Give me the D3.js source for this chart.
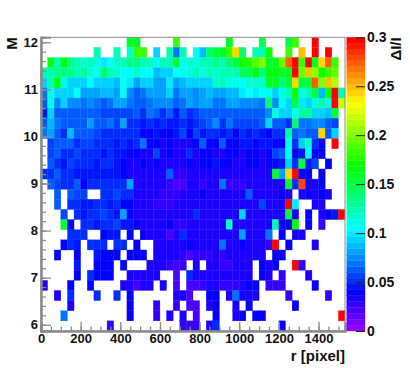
<!DOCTYPE html>
<html>
<head>
<meta charset="utf-8">
<script src="https://cdn.jsdelivr.net/npm/d3@7"></script>
<style>
  body { margin: 0; background: #fff; }
  text { font-family: "Liberation Sans", sans-serif; font-weight: bold; font-size: 15px; fill: #111; }
</style>
</head>
<body>
<svg id="chart" width="410" height="368"></svg>
<script>
const _ = null;

// ticks and bins
const rTicks = [0, 200, 400, 600, 800, 1000, 1200, 1400];
const rMinorTicks = d3.range(0, 1501, 50);
const mTicks = [6, 7, 8, 9, 10, 11, 12];
const mMinorTicks = d3.range(6, 12.01, 0.2);
const zTicks = [0, 0.05, 0.1, 0.15, 0.2, 0.25, 0.3];
const zLabels = ['0', '0.05', '0.1', '0.15', '0.2', '0.25', '0.3'];
const rRange = [0, 1533.33];
const mRange = [5.867, 12.106];

// delta I / I, rows from the top (high M) down, 46 r bins each
const cells = [
  [_,_,_,_,_,_,_,_,_,_, _,_,_,.16,.16,_,_,_,_,_, .18,_,_,_,_,_,_,_,.16,_, _,_,_,.145,_,_,_,.15,.18,_, _,.3,_,_,_,_],
  [_,_,_,_,_,_,_,_,.12,_, _,.125,_,.115,.18,.18,_,.09,_,.125, .07,.125,_,.105,.085,.14,.155,.16,.18,.24, .14,_,.125,.125,.17,_,_,.185,_,.25, _,.3,_,.3,_,_],
  [_,.17,.125,.165,.135,.125,.115,.12,.11,.1, .105,.115,.125,.135,.135,.125,.125,.105,.125,.12, .16,.105,.115,.11,.12,.125,.135,.125,.14,.15, .17,.175,.19,.2,.16,.16,.195,.275,.3,.18, .3,.16,.245,.27,.18,_],
  [.12,.12,.135,.135,.135,.125,.13,.115,.105,.14, .125,.115,.105,.105,.115,.105,.105,.085,.09,.09, .105,.105,.11,.12,.11,.12,.115,.12,.12,.12, .145,.145,.165,.135,.165,.165,.16,.16,.3,.195, .25,.205,.17,.18,.195,_],
  [.09,.125,.165,.11,.09,.09,.09,.105,.09,.09, .09,.085,.105,.1,.08,.09,.09,.08,.08,.1, .08,.085,.095,.095,.09,.095,.115,.125,.11,.11, .105,.115,.115,.115,.16,.16,.14,.155,.24,.15, .155,.27,.2,.25,.21,_],
  [.07,.11,.09,.09,.09,.105,.08,.08,.08,.085, .085,.08,.105,.075,.065,.07,.08,.08,.08,.09, .07,.08,.08,.075,.08,.085,.08,.08,.085,.085, .1,.105,.1,.105,.11,.09,.11,.125,.17,.11, .12,.15,.085,.17,.3,.125],
  [.065,.11,.075,.09,.075,.075,.07,.075,.07,.065, .07,.08,.08,.07,.065,.065,.07,.075,.075,.075, .065,.07,.08,.075,.08,.08,.07,.07,.08,.08, .075,.075,.075,.07,.14,.075,.105,.09,.155,.1, .09,.11,.12,.11,.3,.22],
  [.045,.09,.065,.06,.06,.06,.06,.06,.06,.055, .055,.055,.055,.055,.06,.05,.07,.06,.05,.065, .045,.06,.05,.055,.065,.06,.06,.06,.06,.06, .06,.06,.065,.06,.075,.11,.09,.09,.105,.13, .13,.09,.09,.085,.155,_],
  [.06,.085,.07,.065,.065,.065,.065,.08,.06,.06, .07,.055,.08,.05,.05,.045,.05,.045,.05,.045, .045,.05,.045,.05,.055,.06,.075,.05,.07,.055, .055,.055,.055,.06,.09,.06,.06,.05,.14,.07, .07,.075,.075,.06,.055,_],
  [.07,.08,.065,.05,.085,.065,.06,.06,.055,.05, .05,.05,.05,.05,.05,.04,.04,.045,.04,.04, .045,.055,.04,.055,.045,.05,.05,.045,.05,.04, .05,.045,.05,.045,.04,.05,.05,.13,.065,.07, .065,.065,.245,.06,.09,_],
  [_,.055,.06,.065,.065,.05,.055,.055,.05,.05, .05,.045,.05,.045,.05,.07,.04,.04,.035,.04, .035,.035,.035,.04,.06,.04,.04,.06,.04,.04, .045,.045,.04,.045,.045,.04,.04,.105,.05,.09, .115,.05,.04,_,.3,_],
  [_,.055,.065,.05,.05,.055,.05,.05,.05,.045, .05,.045,.045,.04,.04,.035,.035,.055,.035,.04, .035,.035,.05,.035,.04,.04,.035,.035,.04,.04, .035,.04,.04,.035,.04,.055,.06,.105,.04,.045, .105,.04,.04,_,_,_],
  [_,.06,.05,.045,.055,.05,.05,.05,.045,.05, .05,.045,.04,.035,.035,.04,.035,.04,.035,.035, .03,.035,.04,.035,.04,.04,.045,.04,.04,.035, .03,.04,.04,.035,.04,.04,.045,.09,.05,.155, .045,.055,_,.04,_,_],
  [.05,.05,.06,.05,.05,.045,.045,.045,.045,.045, .045,.045,.04,.035,.03,.03,.03,.03,.035,.06, .025,.025,.03,.03,.035,.035,.035,.035,.035,.035, .03,.035,.035,.035,.035,.16,.08,.24,.3,.04, .04,_,.04,_,_,_],
  [_,.06,.055,.05,.05,.06,.04,.05,.05,.05, .05,.05,.05,.08,.03,.03,.03,.03,.03,.025, .02,.02,.03,.035,.025,.03,.03,.07,.025,.025, .025,.03,.03,.03,.035,.035,.03,.16,.05,.28, .03,.03,.04,_,_,_],
  [_,_,.06,_,.06,.055,.055,_,_,.05, .05,.055,.05,.05,.035,.03,.03,.03,.025,.025, .025,.03,.03,.035,.04,.03,.03,.035,.035,.03, .03,.065,.03,.03,.035,.03,.04,.03,_,.03, .04,.035,.04,.03,_,_],
  [_,_,.06,_,.05,.05,.045,.045,.05,.05, .045,.05,.04,.04,.035,.03,.03,.025,.025,.025, .03,.03,.03,.03,.03,.03,.03,.035,.035,.03, .03,.03,.03,.055,.035,.035,.03,.3,.1,_, _,.035,.035,_,_,_],
  [_,_,_,.055,_,.05,.045,.05,.05,.055, .05,.045,.08,.04,.035,.035,.03,.03,.03,.03, .03,.03,.03,.05,.035,.035,.03,.035,.03,.03, .09,.03,.03,.03,.03,.03,.035,.15,.03,_, .04,_,.03,.04,.045,.3],
  [_,_,_,.15,.04,_,.05,.05,.045,.05, .05,.055,.045,.045,.04,.035,.03,.03,.03,.04, .025,.025,.03,.035,.03,.03,.03,.035,.115,.03, .035,.035,.03,.03,.035,.125,.04,.04,.17,_, .04,_,.025,_,_,_],
  [_,_,_,_,.05,.05,.05,_,_,.04, .045,.045,_,.04,_,.04,.035,.035,.03,.02, .03,.05,.035,.035,.03,.035,.035,.03,.035,.035, .08,.03,.03,.03,.07,_,.04,_,.03,.035, _,_,_,_,_,_],
  [_,_,_,.04,.05,.045,_,.05,.05,.05, _,.05,.05,_,.04,_,_,.03,.03,.03, .035,.03,.04,.035,.03,.035,.03,.07,.03,.03, .04,.03,.03,.03,.025,.3,_,.04,_,_, _,.03,_,_,_,_],
  [_,_,.04,_,_,.04,_,_,.045,.04, .04,.04,_,.04,.04,.04,_,.03,.03,.03, .035,.025,.02,.025,.025,.025,.03,.025,.03,.03, .03,.035,.03,.03,_,.04,.04,_,_,_, _,_,_,_,_,_],
  [_,_,_,_,_,.045,_,_,.04,.04, .04,_,.04,_,_,_,.035,.03,.03,.025, .02,.025,_,.03,_,.035,.03,.025,.025,.03, .03,.03,_,.04,.03,.04,_,_,.3,.025, _,_,_,_,_,_],
  [_,_,_,_,_,.04,_,.05,.04,.04, .04,_,_,.03,.03,.03,.03,.03,_,_, .02,_,.05,.03,.03,.035,.03,.035,.03,.03, .03,.035,_,.04,.03,_,.025,_,_,_, .03,_,_,_,_,_],
  [.035,_,_,_,.04,_,_,.04,_,_, _,_,.03,.03,.02,.03,.03,_,.03,_, .02,_,.02,.02,.025,.03,.03,.025,.025,.025, .03,.04,.04,_,.025,.025,.025,_,_,_, _,.04,_,_,_,_],
  [_,_,.035,_,.05,_,_,_,.05,_, _,.05,_,.04,_,_,_,_,_,_, .03,.035,.02,_,_,.04,.04,_,.03,.07, .03,.03,.035,_,_,_,_,.025,_,_, _,_,_,.025,_,_],
  [_,_,_,_,.035,_,_,_,_,_, _,_,_,.04,_,_,_,.025,_,_, .025,_,.02,.02,_,.03,.04,_,_,.03, _,.04,_,_,_,_,_,_,.04,_, _,_,_,_,_,_],
  [_,_,_,.07,_,_,_,_,_,_, _,_,_,.04,_,_,_,.025,_,.03, _,.035,_,.02,_,_,.04,_,_,.03, .04,_,.04,.04,_,_,_,_,_,_, _,_,_,_,_,.3],
  [_,_,_,_,_,_,_,_,_,_, .025,_,_,_,_,_,_,_,_,_, _,.025,.025,.025,_,.03,.05,_,_,_, _,_,_,_,_,_,.04,_,_,_, _,_,_,_,_,_]
];

const svg = d3.select('#chart');
const frame = { left: 41, right: 345, top: 37.3, bottom: 331 };
const axisGrey = '#8a8a8a';

const x = d3.scaleLinear().domain(rRange).range([frame.left, frame.right]);
const y = d3.scaleLinear().domain(mRange).range([frame.bottom, frame.top]);
const z = d3.scaleLinear().domain([0, 0.3]).range([frame.bottom, frame.top]);

// 50 level rainbow
const palette = d3.range(50).map(i => d3.hsl(280 - (i + 1) * 5.6, 1, 0.5).formatHex());
const color = d3.scaleQuantize().domain([0, 0.3]).range(palette);

main();

function main () {
  drawCells();
  drawFrame();
  drawColorBar();
  drawTitles();
}

function drawCells () {
  const rStep = (rRange[1] - rRange[0]) / cells[0].length;
  const mStep = (mRange[1] - mRange[0]) / cells.length;
  const flat = [];
  cells.forEach((row, i) => row.forEach((v, j) => {
    if (v !== null) flat.push({ i, j, v });
  }));
  svg.append('g').selectAll('rect').data(flat).join('rect')
    .attr('x', d => x(d.j * rStep))
    .attr('y', d => y(mRange[1] - d.i * mStep))
    .attr('width', x(rStep) - x(0))
    .attr('height', y(0) - y(mStep))
    .attr('fill', d => color(d.v))
    .attr('stroke', d => color(d.v))
    .attr('stroke-width', 0.3);
}

function drawFrame () {
  svg.append('rect')
    .attr('x', frame.left).attr('y', frame.top)
    .attr('width', frame.right - frame.left).attr('height', frame.bottom - frame.top)
    .attr('fill', 'none').attr('stroke', axisGrey).attr('stroke-width', 1);

  const xMinor = d3.axisBottom(x).tickValues(rMinorTicks).tickSize(-4.5).tickFormat('');
  const xMajor = d3.axisBottom(x).tickValues(rTicks).tickSize(-9).tickPadding(3).tickFormat(d3.format('d'));
  const yMinor = d3.axisLeft(y).tickValues(mMinorTicks).tickSize(-5).tickFormat('');
  const yMajor = d3.axisLeft(y).tickValues(mTicks).tickSize(-10).tickPadding(3).tickFormat(d3.format('d'));

  const gx = `translate(0,${frame.bottom})`;
  const gy = `translate(${frame.left},0)`;
  [[xMinor, gx], [xMajor, gx], [yMinor, gy], [yMajor, gy]].forEach(([axis, tr]) => {
    const g = svg.append('g').attr('transform', tr).call(axis);
    g.selectAll('line').attr('stroke', axisGrey).attr('stroke-width', 1.3);
    g.select('.domain').attr('stroke', axisGrey).attr('stroke-width', 2);
    g.selectAll('text').style('font', 'bold 13px "Liberation Sans"');
  });
}

function drawColorBar () {
  const barLeft = 346.8;
  const barRight = 365;
  const step = 0.3 / palette.length;
  svg.append('g').selectAll('rect').data(palette).join('rect')
    .attr('x', barLeft)
    .attr('y', (d, i) => z((i + 1) * step))
    .attr('width', barRight - barLeft)
    .attr('height', z(0) - z(step))
    .attr('fill', d => d)
    .attr('stroke', d => d)
    .attr('stroke-width', 0.3);

  const axis = d3.axisRight(z).tickValues(zTicks).tickSize(-9).tickPadding(2)
    .tickFormat((d, i) => zLabels[i]);
  const g = svg.append('g').attr('transform', `translate(${barRight},0)`).call(axis);
  g.select('.domain').remove();
  g.selectAll('line').attr('stroke', '#222').attr('stroke-width', 1);
  g.selectAll('text').style('font', 'bold 14px "Liberation Sans"');
}

function drawTitles () {
  svg.append('text')
    .attr('text-anchor', 'end')
    .attr('x', frame.right).attr('y', 361)
    .text('r [pixel]');
  svg.append('text')
    .attr('text-anchor', 'end')
    .attr('transform', `translate(17,${frame.top}) rotate(-90)`)
    .text('M');
  svg.append('text')
    .attr('text-anchor', 'end')
    .attr('transform', `translate(401,${frame.top}) rotate(-90)`)
    .text('ΔI/I');
}
</script>
</body>
</html>
